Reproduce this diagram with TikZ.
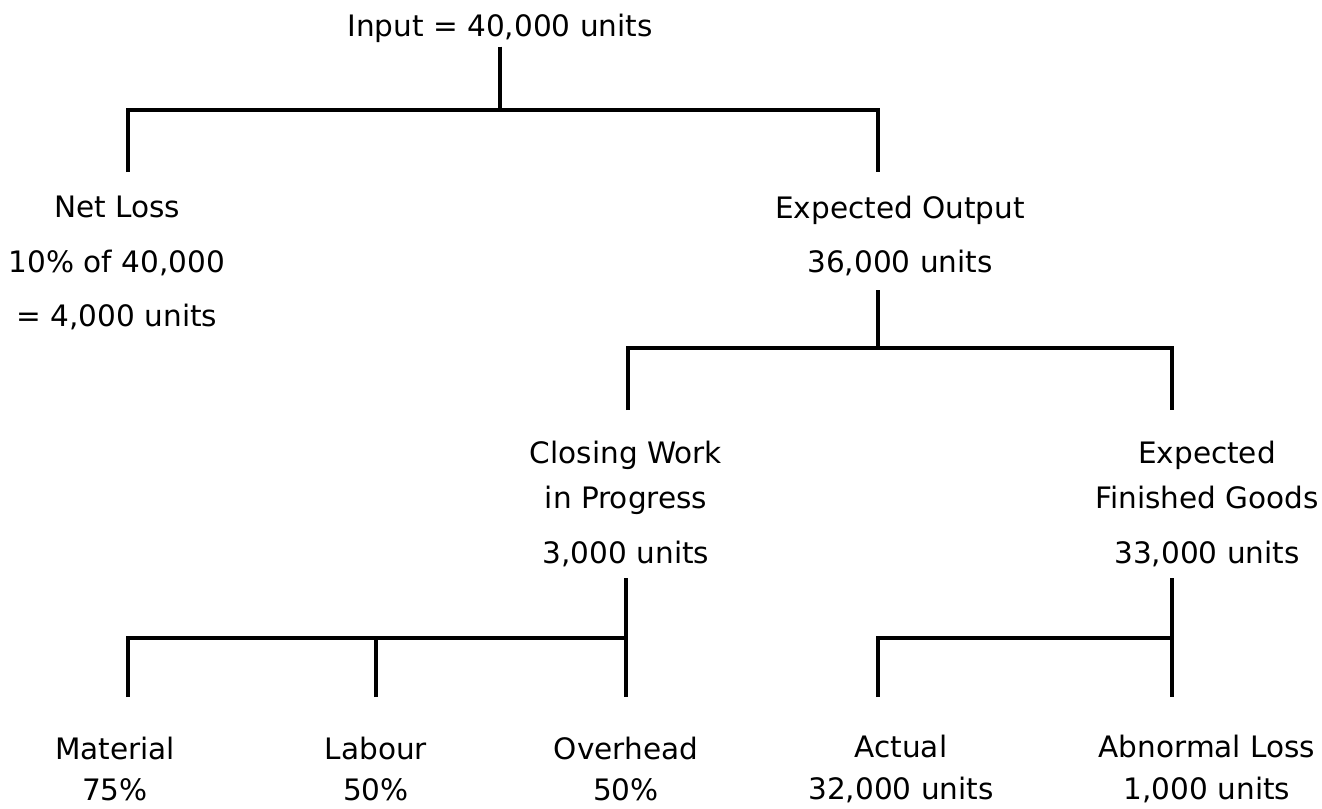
\documentclass[tikz,border=0pt]{standalone}
\usepackage{fontspec}
\setmainfont{DejaVu Sans}
\usetikzlibrary{positioning}

\begin{document}
\begin{tikzpicture}[
  txt/.style={align=center, font=\fontsize{8.4}{12.8}\selectfont, inner sep=1pt},
  link/.style={draw=black, line width=0.9pt}
]
\useasboundingbox (0,0) rectangle (13.22,-8.08);

%the labels
\node [txt] (input) at (5.00,-0.28) {Input = 40,000 units};
\node [txt] (netloss) at (1.17,-2.63) {Net Loss\\[2.8pt] 10\% of 40,000\\[2.8pt] = 4,000 units};
\node [txt] (expout) at (9.00,-2.36) {Expected Output\\[2.8pt] 36,000 units};
\node [txt] (cwip) at (6.26,-5.04) {Closing Work\\ in Progress\\[2.8pt] 3,000 units};
\node [txt] (efg) at (12.07,-5.04) {Expected\\ Finished Goods\\[2.8pt] 33,000 units};
\node [txt] (material) at (1.15,-7.69) {Material\\[-0.9pt] 75\%};
\node [txt] (labour) at (3.76,-7.69) {Labour\\[-0.9pt] 50\%};
\node [txt] (overhead) at (6.26,-7.69) {Overhead\\[-0.9pt] 50\%};
\node [txt] (actual) at (9.01,-7.69) {Actual\\[-0.9pt] 32,000 units};
\node [txt] (abloss) at (12.07,-7.69) {Abnormal Loss\\[-0.9pt] 1,000 units};

%the joints
\coordinate (j1) at (5.00,-1.10);
\coordinate (netloss-in) at (1.28,-1.72);
\coordinate (expout-in) at (8.78,-1.72);
\coordinate (expout-out) at (8.78,-2.90);
\coordinate (j2) at (8.78,-3.48);
\coordinate (cwip-in) at (6.28,-4.10);
\coordinate (efg-in) at (11.72,-4.10);
\coordinate (cwip-out) at (6.26,-5.78);
\coordinate (j3) at (6.26,-6.38);
\coordinate (material-in) at (1.28,-6.97);
\coordinate (labour-in) at (3.76,-6.97);
\coordinate (overhead-in) at (6.26,-6.97);
\coordinate (efg-out) at (11.72,-5.78);
\coordinate (j4) at (11.72,-6.38);
\coordinate (actual-in) at (8.78,-6.97);
\coordinate (abloss-in) at (11.72,-6.97);

%the first split
\draw [link] (input.south) -- (j1);
\draw [link] (netloss-in) |- (j1) -| (expout-in);

%the expected output
\draw [link] (expout-out) -- (j2);
\draw [link] (cwip-in) |- (j2) -| (efg-in);

%the work in progress
\draw [link] (cwip-out) -- (overhead-in);
\draw [link] (material-in) |- (j3);
\draw [link] (labour-in) -- (labour-in |- j3);

%the finished goods
\draw [link] (efg-out) -- (abloss-in);
\draw [link] (actual-in) |- (j4);
\end{tikzpicture}
\end{document}
